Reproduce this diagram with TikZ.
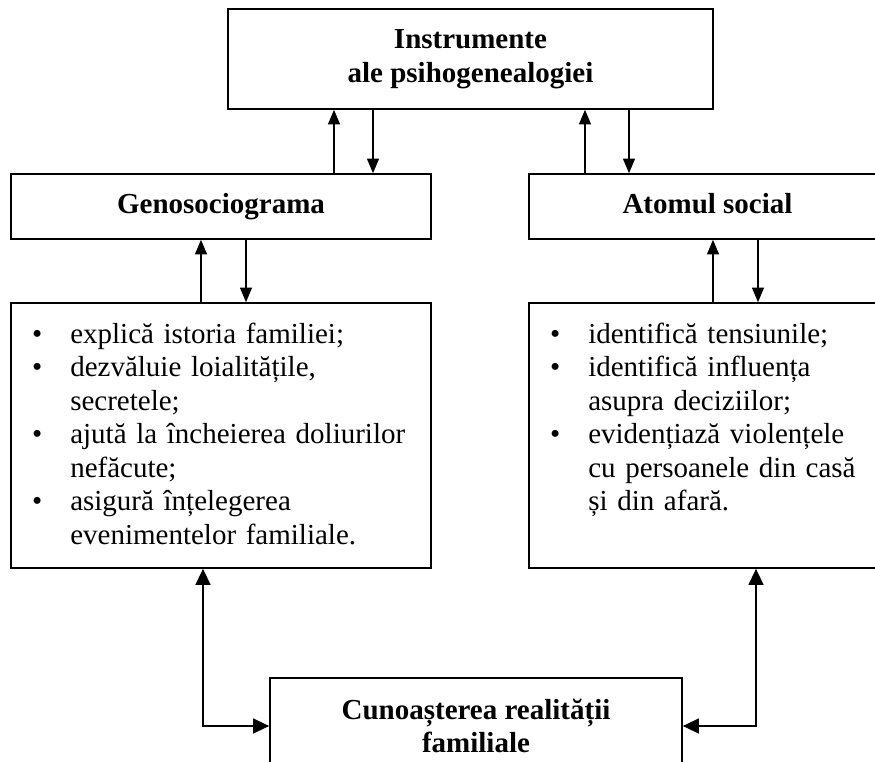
\documentclass[tikz,border=0pt]{standalone}
\usepackage{fontspec}
\setmainfont{Liberation Serif}
\usepackage{enumitem}
\usetikzlibrary{arrows.meta,positioning}

\begin{document}
\begin{tikzpicture}[x=0.75pt,y=-0.75pt,
  every node/.style={font=\fontsize{21.75pt}{25.1pt}\selectfont,inner sep=0pt},
  box/.style={draw,line width=1.2pt,align=center,font=\fontsize{21.75pt}{25.1pt}\selectfont\bfseries},
  oneline/.style={text height=16pt,text depth=5pt},
  arr/.style={-{Triangle[length=11pt,width=9pt]},line width=1.1pt},
  arr2/.style={{Triangle[length=12pt,width=11pt]}-{Triangle[length=12pt,width=11pt]},line width=1.7pt}]
\useasboundingbox (0,0) rectangle (875,762);
\node[box,minimum width=485*0.75pt,minimum height=100*0.75pt] (top) at (470.5,59) {Instrumente\\ale psihogenealogiei};
\node[box,oneline,minimum width=420*0.75pt,minimum height=65*0.75pt] (geno) at (221,206.5) {Genosociograma};
\node[box,oneline,minimum width=357*0.75pt,minimum height=65*0.75pt] (atom) at (707.5,206.5) {Atomul social};
\node[box,minimum width=420*0.75pt,minimum height=265*0.75pt] (lstg) at (221,435.5) {};
\node[box,minimum width=357*0.75pt,minimum height=265*0.75pt] (lsta) at (707.5,435.5) {};
\node[box,minimum width=412*0.75pt,minimum height=96*0.75pt] (bot) at (476,726) {Cunoașterea realității\\familiale};
% bullet lists
\node[anchor=base west,text width=310pt,align=left] (txtg) at (11,310)
  {\begin{itemize}[label=\textbullet,leftmargin=44.25pt,labelsep=21pt,topsep=0pt,partopsep=0pt,itemsep=0pt,parsep=0pt]
   \item explică istoria familiei;
   \item dezvăluie loialitățile,\\secretele;
   \item ajută la încheierea doliurilor\\nefăcute;
   \item asigură înțelegerea\\evenimentelor familiale.
   \end{itemize}};
\node[anchor=base west,text width=260pt,align=left] (txta) at (529,310)
  {\begin{itemize}[label=\textbullet,leftmargin=44.25pt,labelsep=21pt,topsep=0pt,partopsep=0pt,itemsep=0pt,parsep=0pt]
   \item identifică tensiunile;
   \item identifică influența\\asupra deciziilor;
   \item evidențiază violențele\\cu persoanele din casă\\și din afară.
   \end{itemize}};
% up/down pairs
\foreach \u/\d/\lo/\hi in {334/373/geno/top,585/629/atom/top,201/246/lstg/geno,713/758/lsta/atom}
  {\draw[arr] (\u,0 |- \lo.north) -- (\u,0 |- \hi.south);
   \draw[arr] (\d,0 |- \hi.south) -- (\d,0 |- \lo.north);}
\draw[arr2] (203,0 |- lstg.south) |- (bot.west);
\draw[arr2] (756,0 |- lsta.south) |- (bot.east);
\end{tikzpicture}
\end{document}
